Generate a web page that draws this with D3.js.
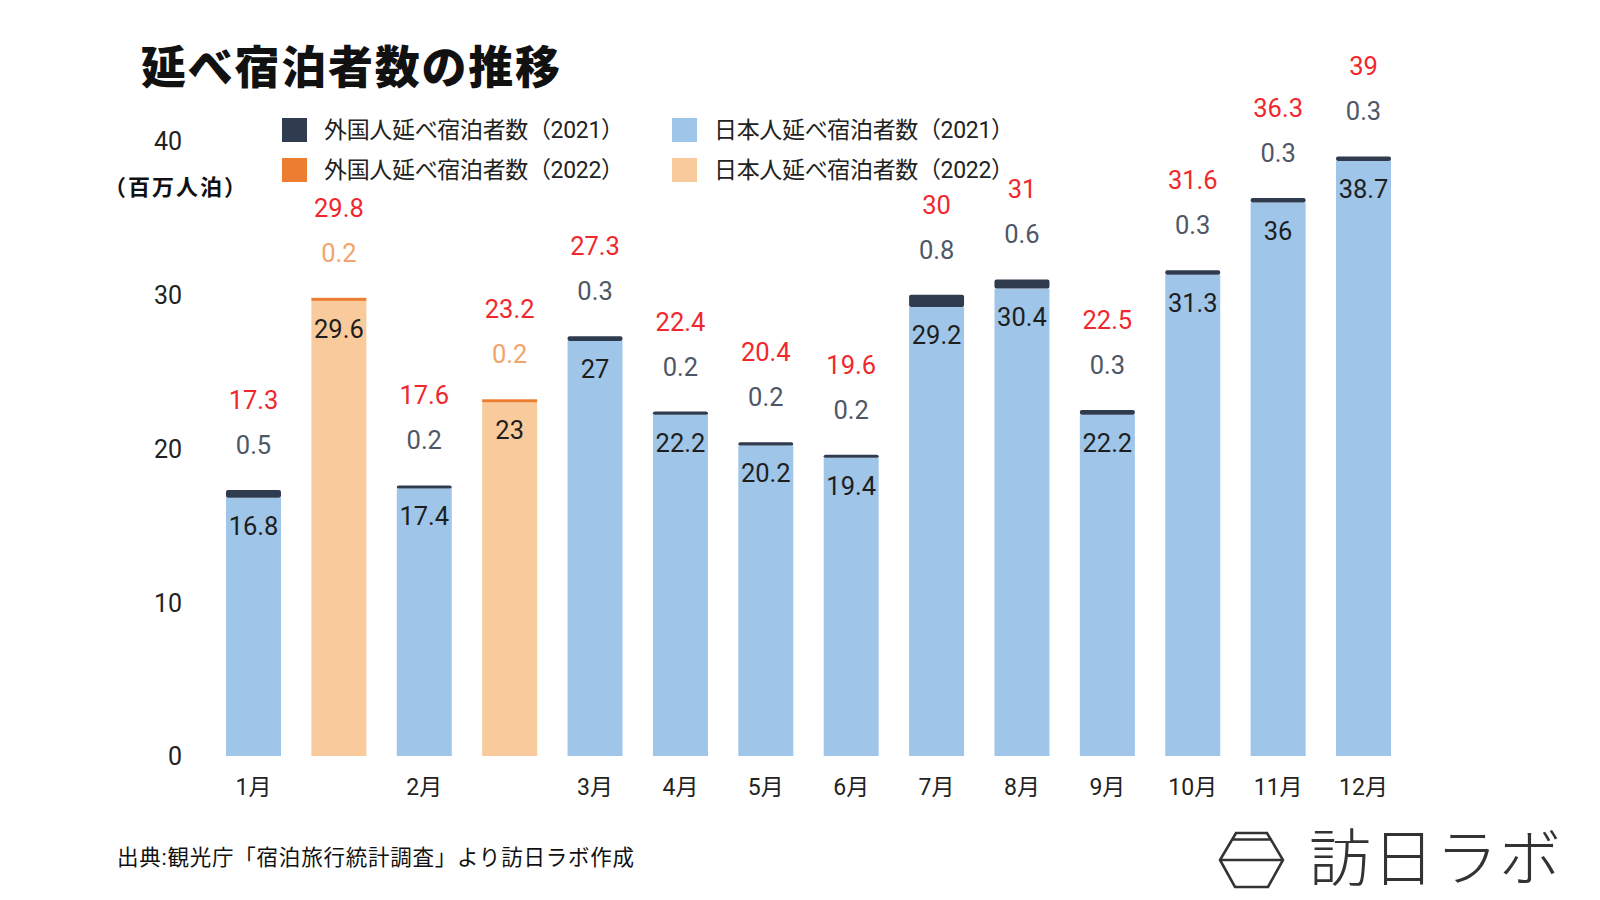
<!DOCTYPE html>
<html>
<head>
<meta charset="utf-8">
<script src="https://cdn.jsdelivr.net/npm/d3@7"></script>
<style>
  html, body { margin: 0; padding: 0; background: #ffffff; }
  svg { display: block; }
  text { font-family: Roboto, "Noto Sans CJK JP", sans-serif; }
</style>
</head>
<body>
<svg id="chart" width="1600" height="900"></svg>
<script>
// ---- data ----
const monthLabels = ["1月", "", "2月", "", "3月", "4月", "5月", "6月", "7月", "8月", "9月", "10月", "11月", "12月"];
const years = [2021, 2022, 2021, 2022, 2021, 2021, 2021, 2021, 2021, 2021, 2021, 2021, 2021, 2021];
const japaneseValues = [16.8, 29.6, 17.4, 23, 27, 22.2, 20.2, 19.4, 29.2, 30.4, 22.2, 31.3, 36, 38.7];
const foreignValues = [0.5, 0.2, 0.2, 0.2, 0.3, 0.2, 0.2, 0.2, 0.8, 0.6, 0.3, 0.3, 0.3, 0.3];
const totalValues = [17.3, 29.8, 17.6, 23.2, 27.3, 22.4, 20.4, 19.6, 30, 31, 22.5, 31.6, 36.3, 39];
const yTicks = [0, 10, 20, 30, 40];
const legendItems = [
  { label: "外国人延べ宿泊者数（2021）", key: "f2021" },
  { label: "外国人延べ宿泊者数（2022）", key: "f2022" },
  { label: "日本人延べ宿泊者数（2021）", key: "j2021" },
  { label: "日本人延べ宿泊者数（2022）", key: "j2022" }
];
const titleText = "延べ宿泊者数の推移";
const unitText = "（百万人泊）";
const sourceText = "出典:観光庁「宿泊旅行統計調査」より訪日ラボ作成";

// ---- styles ----
const colors = {
  f2021: "#2f3b4f",
  f2022: "#ed7d31",
  j2021: "#9fc5e8",
  j2022: "#f9cb9c"
};
const foreignLabelColor = { 2021: "#4f5766", 2022: "#f2a46a" };
const totalColor = "#f0282d";

const svg = d3.select("#chart");
const idx = d3.range(monthLabels.length);

const x = d3.scaleBand()
  .domain(idx)
  .range([210.8, 1406.2])
  .paddingInner(0.356)
  .paddingOuter(0.178);

const y = d3.scaleLinear().domain([0, 40]).range([756, 141]);

// title
svg.append("text")
  .attr("x", 141).attr("y", 68)
  .attr("dominant-baseline", "central")
  .attr("font-family", "'Noto Sans CJK JP', sans-serif")
  .attr("font-size", 45).attr("font-weight", 900)
  .attr("fill", "#111")
  .attr("textLength", 419)
  .text(titleText);

// y axis
const yAxis = d3.axisLeft(y).tickValues(yTicks).tickSize(0).tickPadding(0);
const gy = svg.append("g").attr("transform", "translate(182,0)").call(yAxis);
gy.select(".domain").remove();
gy.selectAll("text")
  .attr("font-size", 25)
  .attr("font-family", "Roboto, sans-serif")
  .attr("fill", "#222")
  .attr("dy", "0.35em");

// unit
svg.append("text")
  .attr("x", 104).attr("y", 187)
  .attr("dominant-baseline", "central")
  .attr("font-family", "'Noto Sans CJK JP', sans-serif")
  .attr("font-size", 22).attr("font-weight", 700)
  .attr("fill", "#111")
  .attr("textLength", 142)
  .text(unitText);

// x axis
const xAxis = d3.axisBottom(x).tickSize(0).tickPadding(0).tickFormat(i => monthLabels[i]);
const gx = svg.append("g").attr("transform", "translate(0,787)").call(xAxis);
gx.select(".domain").remove();
gx.selectAll("text")
  .attr("font-size", 23)
  .attr("fill", "#222")
  .attr("dy", "0.35em");

// bars
const bars = svg.append("g");
idx.forEach(i => {
  const yr = years[i];
  const jCol = yr === 2021 ? colors.j2021 : colors.j2022;
  const fCol = yr === 2021 ? colors.f2021 : colors.f2022;
  const jv = japaneseValues[i], fv = foreignValues[i];
  bars.append("rect")
    .attr("x", x(i)).attr("width", x.bandwidth())
    .attr("y", y(jv)).attr("height", y(0) - y(jv))
    .attr("fill", jCol);
  bars.append("rect")
    .attr("x", x(i)).attr("width", x.bandwidth())
    .attr("y", y(jv + fv)).attr("height", y(jv) - y(jv + fv))
    .attr("rx", yr === 2021 ? 2 : 0)
    .attr("fill", fCol);
  const cx = x(i) + x.bandwidth() / 2;
  // inner label
  bars.append("text")
    .attr("x", cx).attr("y", y(jv) + 28)
    .attr("text-anchor", "middle").attr("dominant-baseline", "central")
    .attr("font-size", 25.5).attr("fill", "#1e1e1e")
    .text(jv);
  const top = y(jv + fv);
  bars.append("text")
    .attr("x", cx).attr("y", top - 45)
    .attr("text-anchor", "middle").attr("dominant-baseline", "central")
    .attr("font-size", 25.5).attr("fill", foreignLabelColor[yr])
    .text(fv);
  bars.append("text")
    .attr("x", cx).attr("y", top - 90)
    .attr("text-anchor", "middle").attr("dominant-baseline", "central")
    .attr("font-size", 25.5).attr("fill", totalColor)
    .text(totalValues[i]);
});

// legend
const legendPos = [
  { x: 282, y: 130 }, { x: 282, y: 170 },
  { x: 672, y: 130 }, { x: 672, y: 170 }
];
const lg = svg.append("g");
legendItems.forEach((d, k) => {
  const p = legendPos[k];
  lg.append("rect")
    .attr("x", p.x).attr("y", p.y - 12)
    .attr("width", 25).attr("height", 24)
    .attr("fill", colors[d.key]);
  lg.append("text")
    .attr("x", p.x + 42).attr("y", p.y)
    .attr("dominant-baseline", "central")
    .attr("font-family", "'Noto Sans CJK JP', sans-serif")
    .attr("font-size", 23).attr("fill", "#222")
    .attr("textLength", 300)
    .text(d.label);
});

// source
svg.append("text")
  .attr("x", 117).attr("y", 857)
  .attr("dominant-baseline", "central")
  .attr("font-family", "'Noto Sans CJK JP', sans-serif")
  .attr("font-size", 21.5).attr("fill", "#111")
  .attr("textLength", 517)
  .text(sourceText);

// logo
const logo = svg.append("g").attr("fill", "none").attr("stroke", "#333").attr("stroke-width", 2.6);
logo.append("path").attr("d", "M1236,833 L1267,833 L1283,860 L1268,887 L1235,887 L1220,860 Z");
logo.append("path").attr("d", "M1233,839.5 L1270,839.5");
logo.append("path").attr("d", "M1220,860 L1283,860");
svg.append("text")
  .attr("x", 1309).attr("y", 859)
  .attr("dominant-baseline", "central")
  .attr("font-family", "'Noto Sans CJK JP', sans-serif")
  .attr("font-size", 62).attr("font-weight", 200)
  .attr("fill", "#333")
  .attr("textLength", 252)
  .text("訪日ラボ");
</script>
</body>
</html>
